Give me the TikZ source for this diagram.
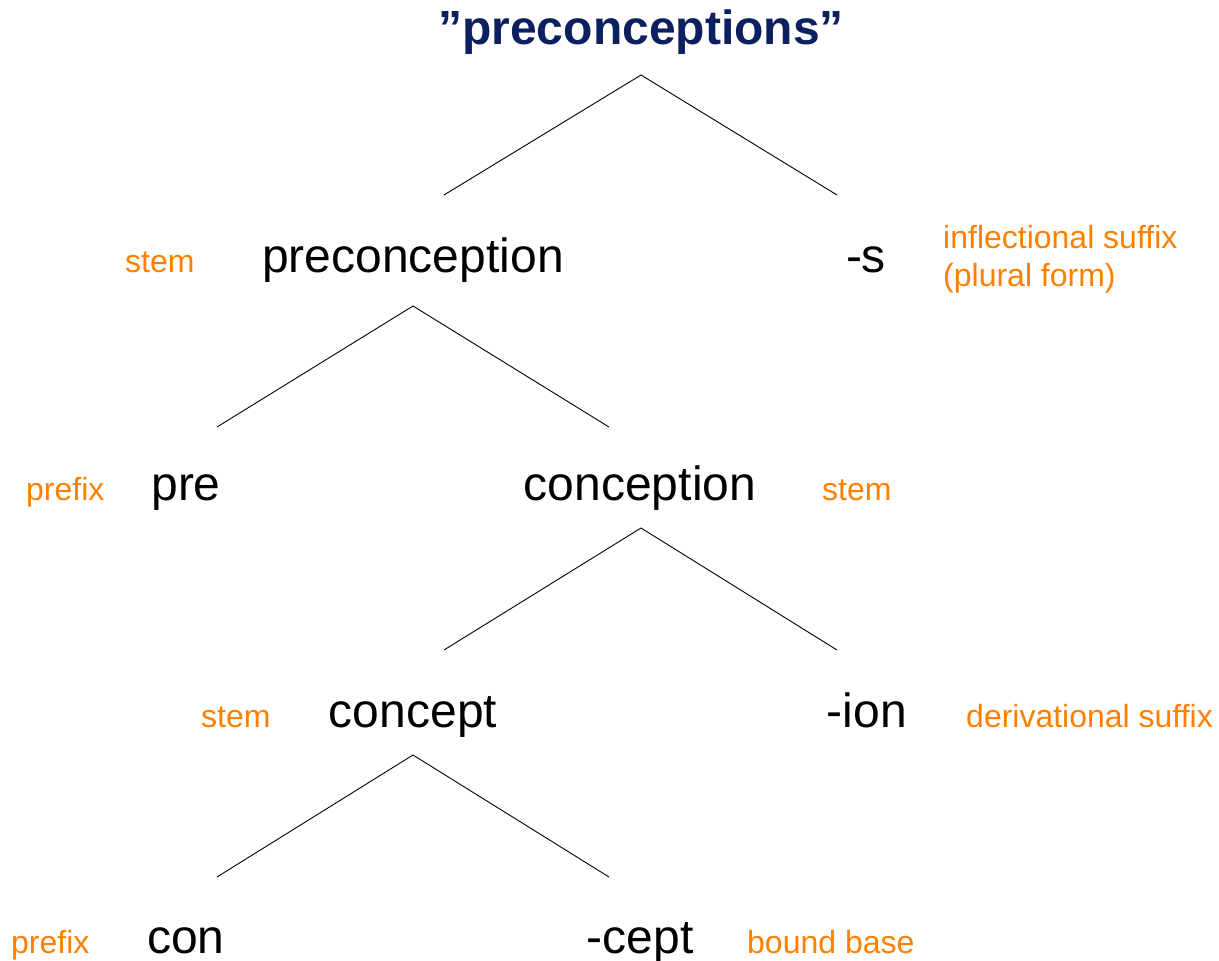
\documentclass[tikz,border=0pt]{standalone}
\usepackage{fontspec}
\setmainfont{Liberation Sans}
\definecolor{navy}{RGB}{12,32,96}
\definecolor{lborange}{RGB}{255,128,0}
\begin{document}
\begin{tikzpicture}[x=1pt,y=-1pt,
  word/.style={inner sep=0pt,anchor=base,font=\fontsize{48}{48}\selectfont,text=black},
  tag/.style={inner sep=0pt,anchor=base west,font=\fontsize{32}{36}\selectfont,text=lborange,align=left},
  title/.style={inner sep=0pt,anchor=base,font=\fontsize{48}{48}\selectfont\bfseries,text=navy},
  branch/.style={line width=0.9pt,draw=black}]
\useasboundingbox (0,0) rectangle (1219,961);
% title
\node[title] (root) at (641,45) {”preconceptions”};
% level 1
\node[word] (w1) at (413,272) {preconception};
\node[word] (w2) at (866,272) {-s};
\node[tag] (l1) at (125,272) {stem};
\node[tag] (l2) at (943,248) {inflectional suffix};
\node[tag] (l2b) at (943,286) {(plural form)};
% level 2
\node[word] (w3) at (186,500) {pre};
\node[word] (w4) at (640,500) {conception};
\node[tag] (l3) at (26,500) {prefix};
\node[tag] (l4) at (822,500) {stem};
% level 3
\node[word] (w5) at (413,727) {concept};
\node[word] (w6) at (867,727) {-ion};
\node[tag] (l5) at (201,727) {stem};
\node[tag] (l6) at (966,727) {derivational suffix};
% level 4
\node[word] (w7) at (186,953) {con};
\node[word] (w8) at (640,953) {-cept};
\node[tag] (l7) at (11,953) {prefix};
\node[tag] (l8) at (747,953) {bound base};
% branch coordinates
\coordinate (a0) at (641,75);
\coordinate (a0l) at (444,195);
\coordinate (a0r) at (837,195);
\coordinate (a1) at (413,306);
\coordinate (a1l) at (217,427);
\coordinate (a1r) at (609,427);
\coordinate (a2) at (641,528);
\coordinate (a2l) at (444,650);
\coordinate (a2r) at (837,650);
\coordinate (a3) at (413,755);
\coordinate (a3l) at (217,877);
\coordinate (a3r) at (609,877);
\draw[branch] (a0l) -- (a0) -- (a0r);
\draw[branch] (a1l) -- (a1) -- (a1r);
\draw[branch] (a2l) -- (a2) -- (a2r);
\draw[branch] (a3l) -- (a3) -- (a3r);
\end{tikzpicture}
\end{document}
